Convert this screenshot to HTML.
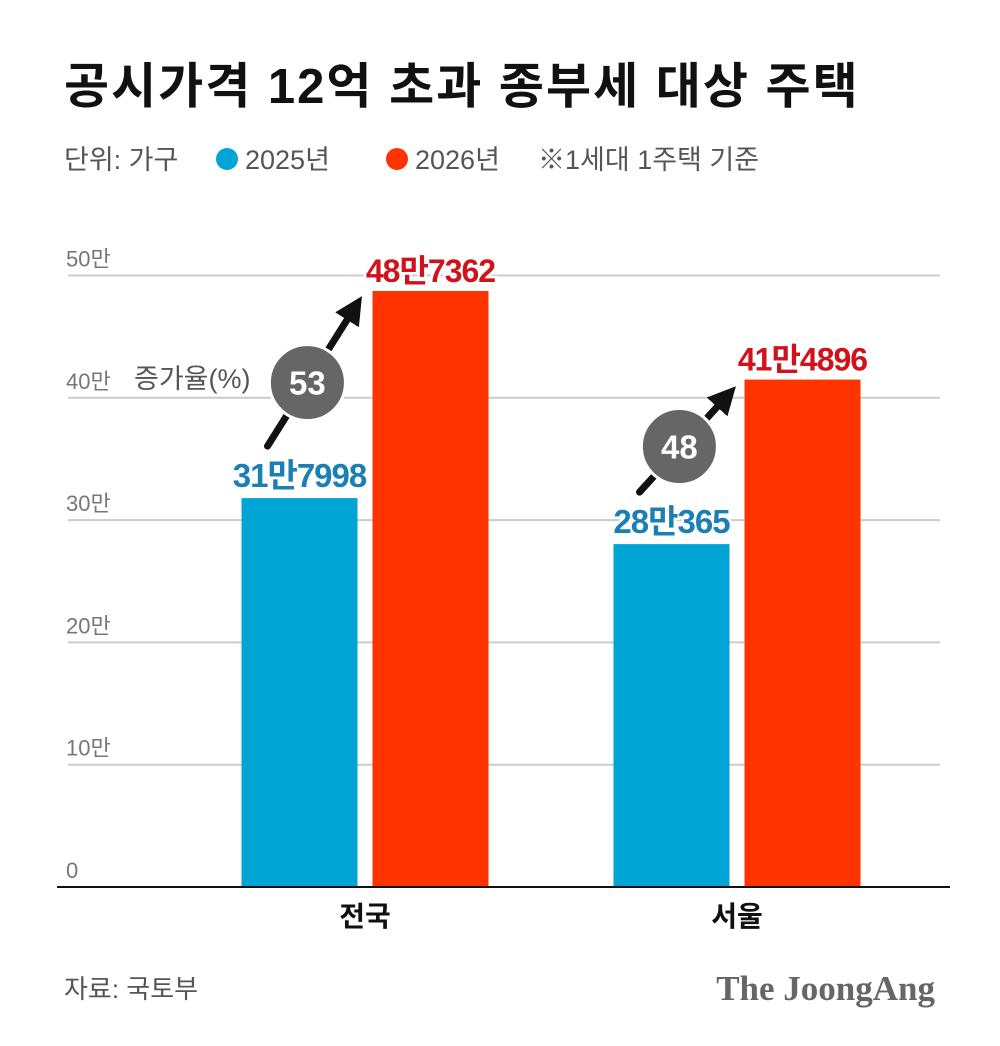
<!DOCTYPE html>
<html><head><meta charset="utf-8">
<style>
body{margin:0;background:#fff;}
svg{display:block;font-family:"Liberation Sans","Noto Sans CJK KR",sans-serif;}
</style></head>
<body>
<svg id="chart" width="1000" height="1046" viewBox="0 0 1000 1046">
<text x="64" y="103" font-size="49" font-weight="bold" fill="#111" letter-spacing="2">공시가격 12억 초과 종부세 대상 주택</text>
<g font-size="27" fill="#555">
<text x="64" y="169">단위: 가구</text>
<circle cx="227" cy="159" r="11" fill="#00a5d6"/>
<text x="245" y="169">2025년</text>
<circle cx="397" cy="159" r="11" fill="#ff3300"/>
<text x="415" y="169">2026년</text>
<text x="538" y="169">※1세대 1주택 기준</text>
</g>
<g id="grid"></g>
<g id="bars"></g>
<g id="annot"></g>
<line x1="57" y1="887" x2="950" y2="887" stroke="#111" stroke-width="2"/>
<text x="64" y="998" font-size="26" fill="#555">자료: 국토부</text>
<text x="935" y="1000" font-size="35" font-weight="bold" fill="#666" text-anchor="end" font-family="Liberation Serif,serif">The JoongAng</text>
</svg>
<script>
const categories = ["전국", "서울"];
const values2025 = [317998, 280365];
const values2026 = [487362, 414896];
const labels2025 = ["31만7998", "28만365"];
const labels2026 = ["48만7362", "41만4896"];
const growthPct = [53, 48];
const yTicks = [0, 100000, 200000, 300000, 400000, 500000];
const yTickLabels = ["0", "10만", "20만", "30만", "40만", "50만"];

const NS = "http://www.w3.org/2000/svg";
const y0 = 887, pxPer = 122.3 / 100000;
const yScale = v => y0 - v * pxPer;
const groupCenter = [365, 737];
const xScale = i => groupCenter[i];
const barW = 116, gap = 15;
function mk(tag, attrs, parent, text){
  const e = document.createElementNS(NS, tag);
  for (const k in attrs) e.setAttribute(k, attrs[k]);
  if (text !== undefined) e.textContent = text;
  parent.appendChild(e); return e;
}
const grid = document.getElementById("grid");
yTicks.forEach((t, i) => {
  const y = yScale(t);
  if (t > 0) {
    const l = mk("line", {x1: 68, x2: 940, y1: y, y2: y, stroke: "#ccc", "stroke-width": 2}, grid);
    
    
  }
  const tx = mk("text", {x: 66, y: y - 9, "font-size": 22, fill: "#777"}, grid, yTickLabels[i]);
  
  
});
const bars = document.getElementById("bars");
const annot = document.getElementById("annot");
mk("defs", {}, annot).innerHTML = '<marker id="ah" markerWidth="4" markerHeight="4" refX="2" refY="2" orient="auto" markerUnits="strokeWidth"><path d="M0,0 L4,2 L0,4 z" fill="#111"/></marker>';
categories.forEach((c, i) => {
  const cx = xScale(i);
  const bx1 = cx - gap/2 - barW, bx2 = cx + gap/2;
  const y1 = yScale(values2025[i]), y2 = yScale(values2026[i]);
  const b1 = mk("rect", {x: bx1, y: y1, width: barW, height: y0 - y1, fill: "#00a5d6"}, bars);
  
  
  const b2 = mk("rect", {x: bx2, y: y2, width: barW, height: y0 - y2, fill: "#ff3300"}, bars);
  
  
  const l1 = mk("text", {x: bx1 + barW/2, y: y1 - 11, "font-size": 33, "font-weight": "bold", fill: "#1a7fb5", "text-anchor": "middle", stroke: "#fff", "stroke-width": 5, "paint-order": "stroke", "letter-spacing": "-1"}, annot, labels2025[i]);
  
  
  const l2 = mk("text", {x: bx2 + barW/2, y: y2 - 9, "font-size": 32, "font-weight": "bold", fill: "#d0121b", "text-anchor": "middle", stroke: "#fff", "stroke-width": 5, "paint-order": "stroke", "letter-spacing": "-1"}, annot, labels2026[i]);
  
  
  const ax1 = bx1 + 26, ay1 = y1 - 52, ax2 = bx2 - 10, ay2 = y2 + 4;
  const ar = mk("line", {x1: ax1, y1: ay1, x2: ax2 - 8, y2: ay2 + 13, stroke: "#111", "stroke-width": 7, "stroke-linecap": "round", "marker-end": "url(#ah)"}, annot);
  
  
  const mx = ax1 + (ax2 - ax1) * 0.42, my = ay1 + (ay2 - ay1) * 0.42;
  const cc = mk("circle", {cx: mx, cy: my, r: 38, fill: "#666", stroke: "#fff", "stroke-width": 3}, annot);
  
  
  const ct = mk("text", {x: mx, y: my + 12, "font-size": 33, "font-weight": "bold", fill: "#fff", "text-anchor": "middle"}, annot, growthPct[i]);
  
  
  const xl = mk("text", {x: cx, y: 926, "font-size": 28, "font-weight": "bold", fill: "#111", "text-anchor": "middle"}, annot, c);
  
  
});
const gl = mk("text", {x: 134, y: 388, "font-size": 27, fill: "#555"}, annot, "증가율(%)");


</script>
</body></html>
